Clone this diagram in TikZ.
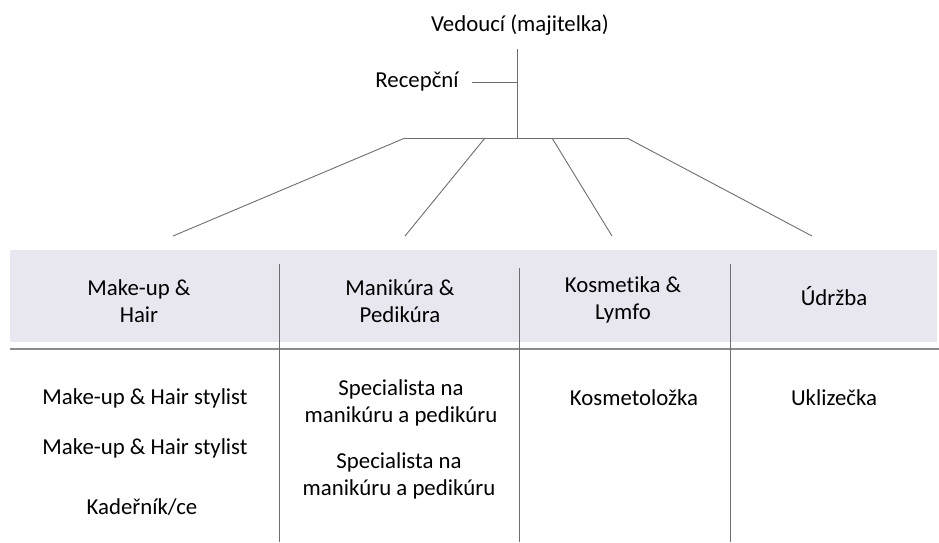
\documentclass[tikz,border=0pt]{standalone}
\usepackage{fontspec}
\setmainfont{Carlito}[Ligatures=NoCommon]
\definecolor{band}{HTML}{E8E6EF}
\definecolor{ln}{HTML}{6E6E6E}
\begin{document}
\begin{tikzpicture}[x=1pt,y=-1pt,
  lbl/.style={inner sep=0pt,align=center,font=\fontsize{22.8}{27}\selectfont},
  conn/.style={draw=ln,line width=0.9pt},
  sep/.style={draw=ln!80,line width=1.6pt}]
\useasboundingbox (0,0) rectangle (939,542);
% band
\fill[band] (10,250) rectangle (937,342);
\draw[sep] (10,349) -- (939,349);
% column dividers
\coordinate (d1t) at (279,264); \coordinate (d1b) at (279,542);
\coordinate (d2t) at (519,268); \coordinate (d2b) at (519,542);
\coordinate (d3t) at (730,264); \coordinate (d3b) at (730,542);
\draw[conn] (d1t) -- (d1b);
\draw[conn] (d2t) -- (d2b);
\draw[conn] (d3t) -- (d3b);
% top
\node[lbl] (boss) at (520,25) {Vedoucí (majitelka)};
\node[lbl] (rec) at (417,82) {Recepční};
\coordinate (vtop) at (517,49);
\coordinate (vbot) at (517,138);
\coordinate (vmid) at (517,82);
\coordinate (recend) at (472,82);
\draw[conn] (vtop) -- (vbot);
\draw[conn] (recend) -- (vmid);
\coordinate (b1) at (405,138); \coordinate (b2) at (485,138);
\coordinate (b3) at (552,138); \coordinate (b4) at (627,138);
\draw[conn] (b1) -- (b4);
\coordinate (e1) at (173,236); \coordinate (e2) at (405,236);
\coordinate (e3) at (612,236); \coordinate (e4) at (812,236);
\draw[conn] (b1) -- (e1);
\draw[conn] (b2) -- (e2);
\draw[conn] (b3) -- (e3);
\draw[conn] (b4) -- (e4);
% headers
\node[lbl] (h1) at (139,301) {Make-up \&\\Hair};
\node[lbl] (h2) at (400,301) {Manikúra \&\\Pedikúra};
\node[lbl] (h3) at (623,300) {Kosmetika \&\\Lymfo};
\node[lbl] (h4) at (834,296) {Údržba};
% contents
\node[lbl] (m1) at (145,398) {Make-up \& Hair stylist};
\node[lbl] (m2) at (145,448) {Make-up \& Hair stylist};
\node[lbl] (m3) at (142,507) {Kadeřník/ce};
\node[lbl] (p1) at (401,403) {Specialista na\\manikúru a pedikúru};
\node[lbl] (p2) at (399,476) {Specialista na\\manikúru a pedikúru};
\node[lbl] (k1) at (634,398) {Kosmetoložka};
\node[lbl] (u1) at (834,398) {Uklizečka};
\end{tikzpicture}
\end{document}
